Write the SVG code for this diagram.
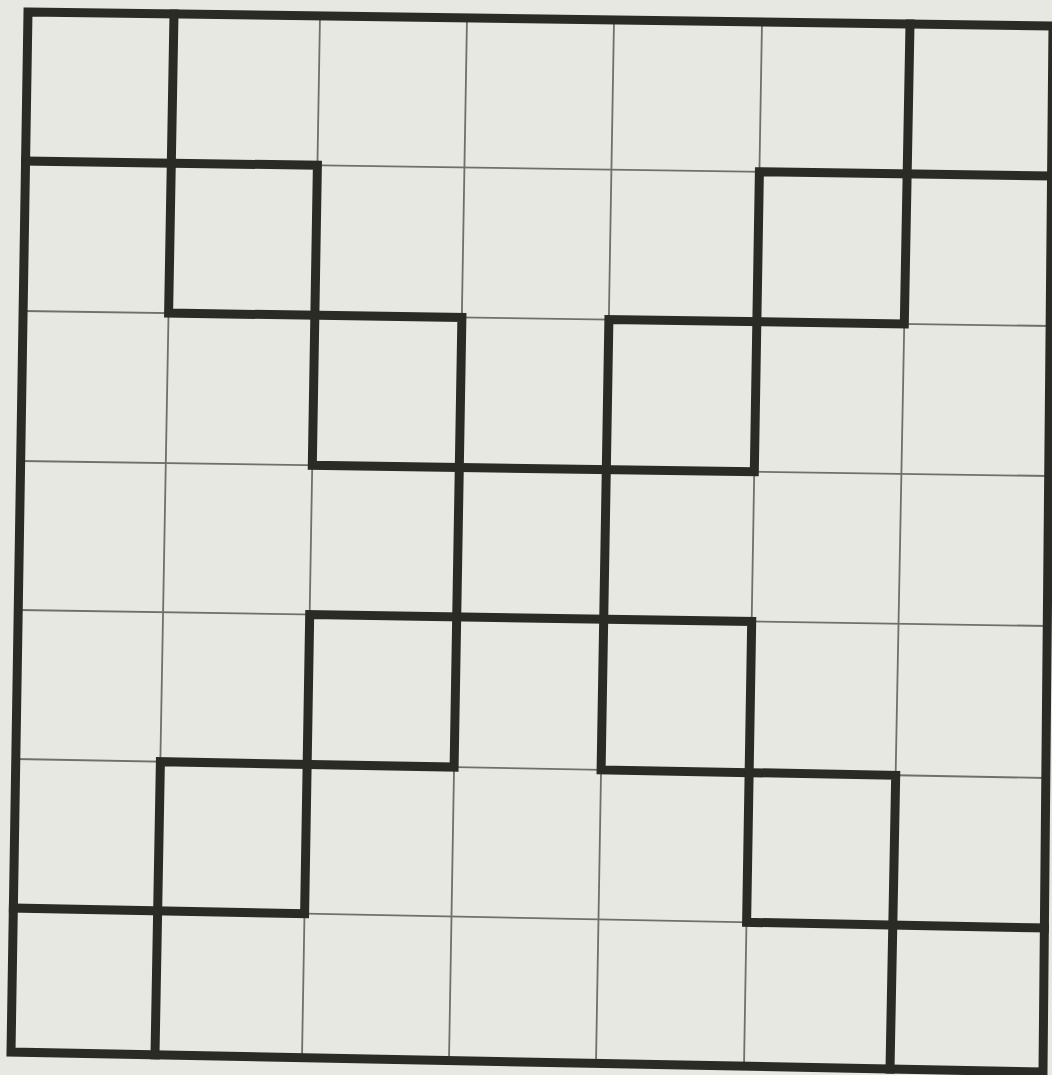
<svg xmlns="http://www.w3.org/2000/svg" width="1052" height="1075" viewBox="0 0 1052 1075">
<style>
.bg{fill:#e8e8e2}
.thin{stroke:#707068;stroke-width:1.8;fill:none}
.thick{stroke:#2a2b24;stroke-width:9;fill:none;stroke-linejoin:miter;stroke-linecap:square}
</style>
<rect class="bg" x="0" y="0" width="1052" height="1075"/>
<g id="thin-grid">
<line class="thin" x1="174" y1="14" x2="155" y2="1054.9"/>
<line class="thin" x1="320" y1="16" x2="302" y2="1057.7"/>
<line class="thin" x1="467" y1="18" x2="449" y2="1060.6"/>
<line class="thin" x1="614" y1="20" x2="596" y2="1063.4"/>
<line class="thin" x1="762" y1="22" x2="744" y2="1066.3"/>
<line class="thin" x1="910" y1="24" x2="890" y2="1069.1"/>
<line class="thin" x1="25.6" y1="161" x2="1051.6" y2="176"/>
<line class="thin" x1="23.1" y1="311" x2="1050.1" y2="326"/>
<line class="thin" x1="20.7" y1="461" x2="1048.7" y2="476"/>
<line class="thin" x1="18.3" y1="610" x2="1047.3" y2="626"/>
<line class="thin" x1="15.9" y1="759" x2="1045.9" y2="778"/>
<line class="thin" x1="13.4" y1="908" x2="1044.4" y2="928"/>
</g>
<g id="thick-walls">
<polygon class="thick" points="28,12 1053,26 1043,1072 11,1052"/>
<polyline class="thick" points="25.6,161 317.4,165.3 312.3,465.3 754.3,471.7 759.4,171.7 1051.6,176"/>
<polyline class="thick" points="174,14 168.6,313.1 461.9,317.4 454.1,767.1 160.4,761.7 155,1054.9"/>
<polyline class="thick" points="910,24 904.3,323.9 608.9,319.6 601.1,769.9 895.7,775.3 890,1069.1"/>
<polyline class="thick" points="13.4,908 304.6,913.7 309.7,614.6 751.7,621.4 746.6,922.3 1044.4,928"/>
</g>
</svg>
